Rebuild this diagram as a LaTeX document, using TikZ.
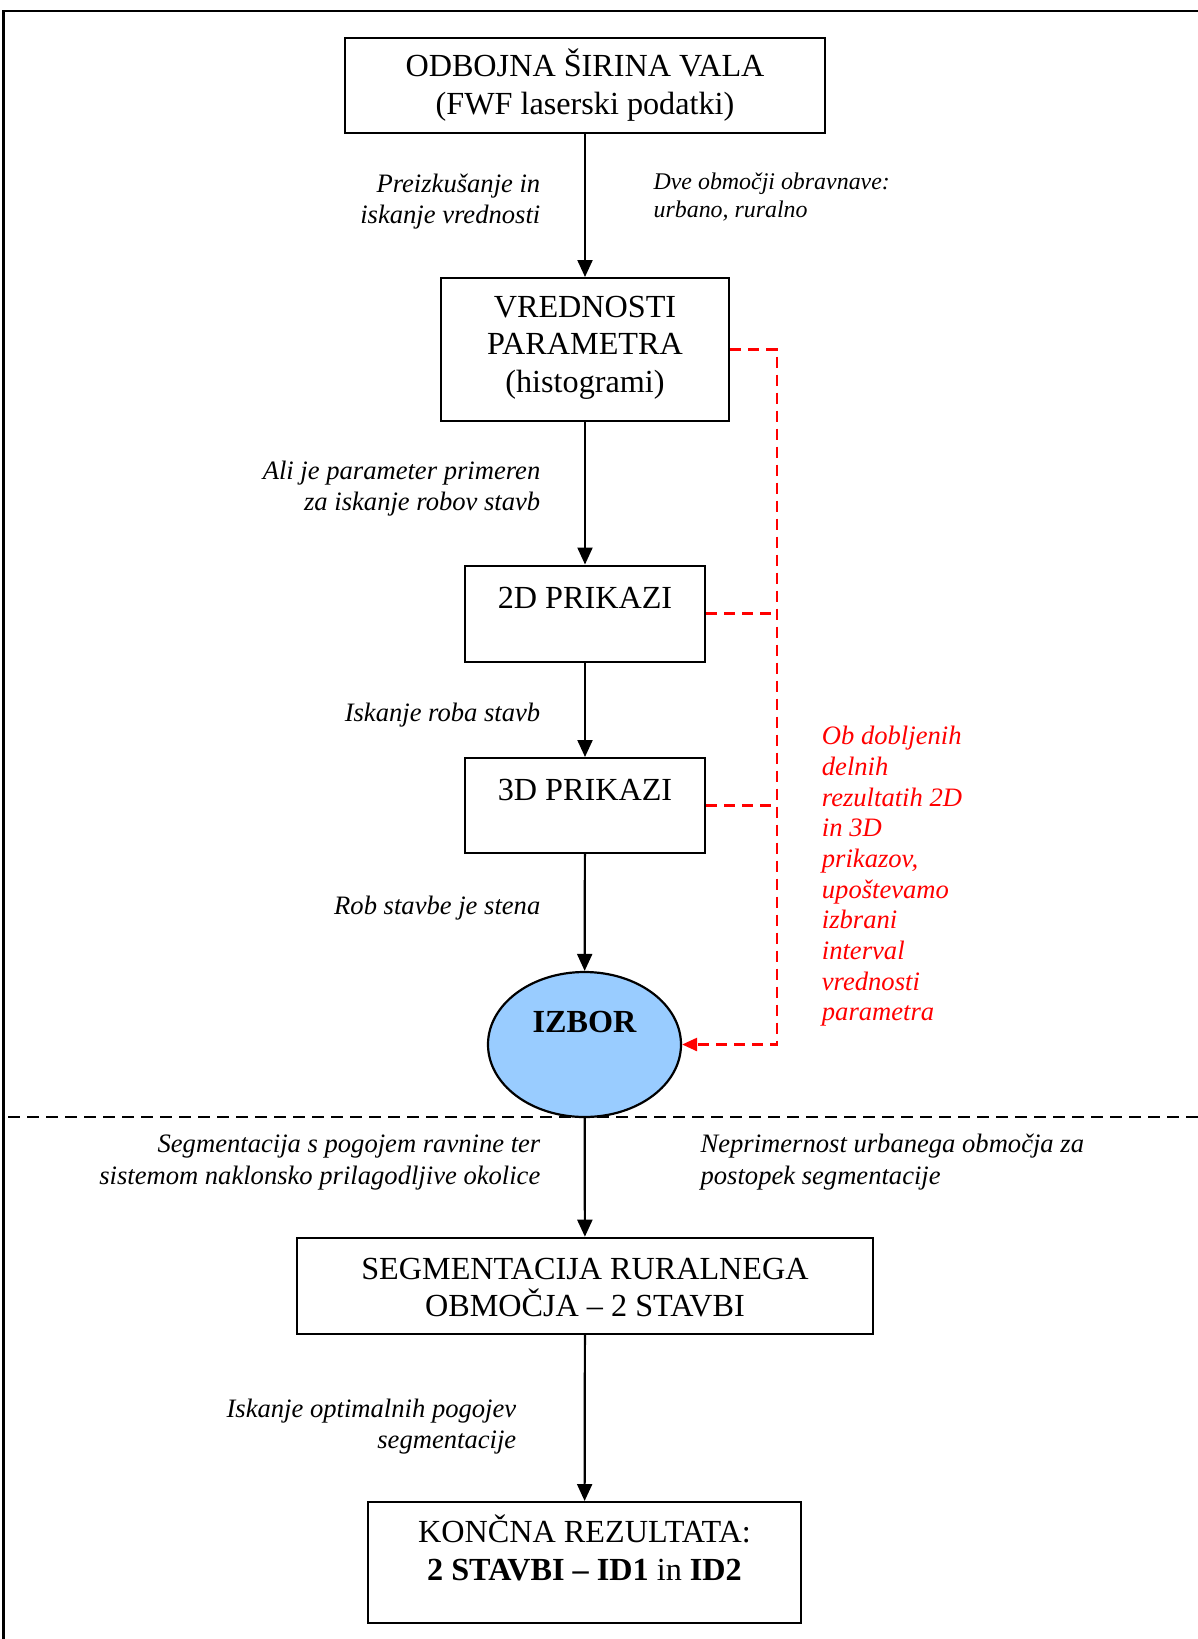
\documentclass[tikz,border=0pt]{standalone}
\usepackage{fontspec}
\setmainfont{Liberation Serif}
\usetikzlibrary{arrows.meta, shapes.geometric}
\definecolor{izborblue}{RGB}{153,204,255}
\tikzset{
  box/.style = {
    draw, line width=2.2pt, inner sep=0pt, align=center,
    font=\fontsize{32.2}{37.7}\selectfont
  },
  izb/.style = {
    ellipse, draw, line width=2.2pt, fill=izborblue, inner sep=0pt,
    minimum width=193pt, minimum height=145pt,
    text height=24pt, text depth=49pt,
    font=\fontsize{32.2}{37.7}\selectfont\bfseries
  },
  lbl/.style  = {inner sep=0pt, font=\fontsize{26.6}{31.4}\selectfont\itshape},
  slbl/.style = {inner sep=0pt, align=left, font=\fontsize{23.9}{28.2}\selectfont\itshape},
  rlbl/.style = {inner sep=0pt, align=left, text=red,
                 font=\fontsize{26.6}{30.66}\selectfont\itshape},
  arr/.style  = {-{Triangle[length=17pt,width=15pt]}, line width=2.2pt},
  rdash/.style = {red, line width=2.5pt, dash pattern=on 11pt off 7pt},
  sep/.style  = {line width=2.2pt, dash pattern=on 12pt off 7pt}
}

\begin{document}
\begin{tikzpicture}[x=1pt, y=-1pt]
  \useasboundingbox (0,0) rectangle (1198,1639);
  %% Frame (open at right and bottom)
  \draw[line width=2.2pt] (3.5,1639) -- (3.5,11) -- (1198,11);

  %% Boxes (text height = top to last baseline)
  \node[box, anchor=north, minimum width=480pt, text height=76.7pt, text depth=18.3pt]
    (fwf) at (585,36.6) {ODBOJNA ŠIRINA VALA\\(FWF laserski podatki)};
  \node[box, anchor=north, minimum width=288pt, text height=114.4pt, text depth=28.6pt]
    (param) at (585,277) {VREDNOSTI\\PARAMETRA\\(histogrami)};
  \node[box, anchor=north, minimum width=240pt, text height=42.5pt, text depth=53.7pt]
    (p2d) at (585,564.5) {2D PRIKAZI};
  \node[box, anchor=north, minimum width=240pt, text height=42pt, text depth=53pt]
    (p3d) at (585,757) {3D PRIKAZI};
  \node[izb] (izbor) at (584.5,1044.5) {IZBOR};
  \node[box, anchor=north, minimum width=576pt, text height=79pt, text depth=17.3pt]
    (seg) at (585,1236.7) {SEGMENTACIJA RURALNEGA\\OBMOČJA – 2 STAVBI};
  \node[box, anchor=north, minimum width=433pt, text height=78pt, text depth=42.5pt]
    (konc) at (584.5,1501) {KONČNA REZULTATA:\\[0.3pt]\textbf{2 STAVBI – ID1} in \textbf{ID2}};

  %% Separator
  \draw[sep] (8,1117) -- (1198,1117);

  %% Main flow
  \draw[arr] (fwf) -- (param);
  \draw[arr] (param) -- (p2d);
  \draw[arr] (p2d) -- (p3d);
  \draw[arr] (p3d) -- (izbor);
  \draw[arr] (izbor) -- (seg);
  \draw[arr] (seg) -- (konc);

  %% Red feedback loop
  \coordinate (rbot) at (777,1044.5);
  \draw[rdash, -{Triangle[length=15pt,width=13pt]}]
    (param.east) -| (rbot) -- (izbor.east);
  \draw[rdash] (p2d.east) -- (p2d.east -| rbot);
  \draw[rdash] (p3d.east) -- (p3d.east -| rbot);

  %% Labels (anchored at last baseline)
  \node[lbl, align=right, anchor=base east] (l1) at (540.5,223.4)
    {Preizkušanje in\\iskanje vrednosti};
  \node[slbl, anchor=base west] (l2) at (653.4,217.2)
    {Dve območji obravnave:\\urbano, ruralno};
  \node[lbl, align=right, anchor=base east] (l3) at (540.5,510.9)
    {Ali je parameter primeren\\za iskanje robov stavb};
  \node[lbl, anchor=base east] (l4) at (540.5,721) {Iskanje roba stavb};
  \node[lbl, anchor=base east] (l5) at (540.5,914) {Rob stavbe je stena};
  \node[lbl, align=right, anchor=base east] (l6) at (540.5,1184.1)
    {Segmentacija s pogojem ravnine ter\\sistemom naklonsko prilagodljive okolice};
  \node[lbl, align=left, anchor=base west] (l7) at (700.4,1184.1)
    {Neprimernost urbanega območja za\\postopek segmentacije};
  \node[lbl, align=right, anchor=base east] (l8) at (516.4,1448.4)
    {Iskanje optimalnih pogojev\\segmentacije};
  \node[rlbl, anchor=base west] (rnote) at (821.7,1020.9)
    {Ob dobljenih\\delnih\\rezultatih 2D\\in 3D\\prikazov,\\upoštevamo\\izbrani\\interval\\vrednosti\\parametra};
\end{tikzpicture}
\end{document}
